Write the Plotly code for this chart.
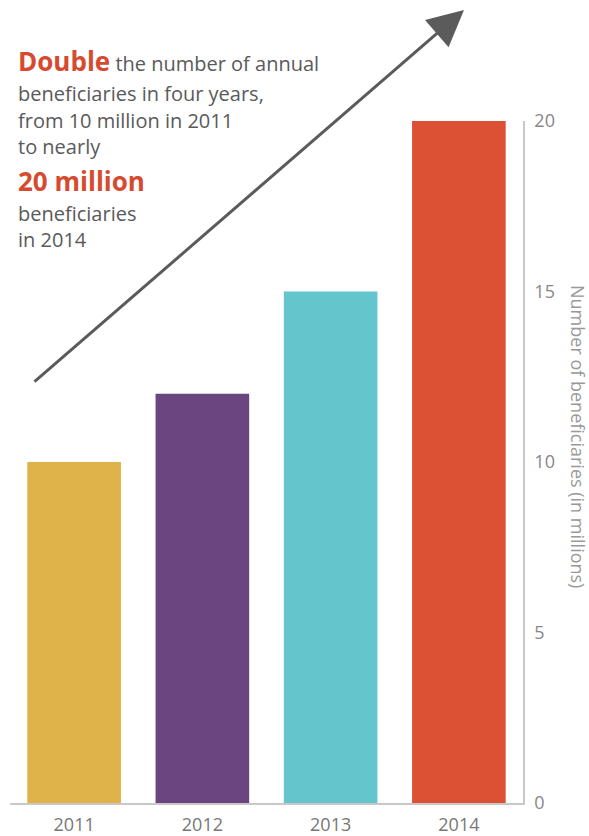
import plotly.graph_objects as go

# Annual beneficiaries, in millions
years = ["2011", "2012", "2013", "2014"]
beneficiaries = [10, 12, 15, 20]
bar_colors = ["#E0B24A", "#6A4580", "#64C6CC", "#DC5134"]
y_ticks = [0, 5, 10, 15, 20]

RED = "#D64A2F"
GREY_TEXT = "#5a5a5a"
FONT = "Open Sans"

W, H = 589, 836
L, R, T, B = 10, 66, 121, 33

fig = go.Figure(
    go.Bar(
        x=years,
        y=beneficiaries,
        marker=dict(color=bar_colors, line=dict(width=0)),
        hoverinfo="skip",
    )
)


def px_x(px):
    return (px - L) / (W - L - R)


def px_y(py):
    return (H - B - py) / (H - T - B)


# Callout text, one annotation per line
big = f"font-size:26px;color:{RED}"
lines = [
    (61, f"<span style='{big}'><b>Double</b></span> the number of annual"),
    (93, "beneficiaries in four years,"),
    (120, "from 10 million in 2011"),
    (147, "to nearly"),
    (181, f"<span style='{big}'><b>20 million</b></span>"),
    (213, "beneficiaries"),
    (240, "in 2014"),
]
annotations = []
for py, txt in lines:
    annotations.append(dict(
        text=txt, xref="paper", yref="paper",
        x=px_x(16), y=px_y(py), xanchor="left", yanchor="middle",
        showarrow=False, font=dict(family=FONT, size=20, color=GREY_TEXT),
    ))

# Growth arrow
head = (464, 10)
tail = (33, 383)
annotations.append(dict(
    text="", xref="paper", yref="paper",
    x=px_x(head[0]), y=px_y(head[1]),
    ax=tail[0] - head[0], ay=tail[1] - head[1],
    axref="pixel", ayref="pixel",
    showarrow=True, arrowhead=2, arrowsize=2.4, arrowwidth=3,
    arrowcolor="#5b5b5b", standoff=0,
))

# Axis title, reading top to bottom
annotations.append(dict(
    text="Number of beneficiaries (in millions)",
    xref="paper", yref="paper", x=px_x(578), y=px_y(436),
    xanchor="center", yanchor="middle", textangle=90, showarrow=False,
    font=dict(family=FONT, size=18, color="#999999"),
))

fig.update_layout(
    width=W, height=H,
    margin=dict(l=L, r=R, t=T, b=B, pad=0, autoexpand=False),
    paper_bgcolor="white", plot_bgcolor="white",
    showlegend=False, bargap=0.27,
    font=dict(family=FONT),
    annotations=annotations,
    xaxis=dict(
        showgrid=False, zeroline=False, showline=True,
        linecolor="#c8c8c8", linewidth=1.5, automargin=False,
        tickfont=dict(family=FONT, size=18, color="#777777"),
        ticks="", ticklabelstandoff=5, fixedrange=True,
    ),
    yaxis=dict(
        side="right", range=[0, 20], tickvals=y_ticks,
        showgrid=False, zeroline=False, showline=True,
        linecolor="#c8c8c8", linewidth=1.5, automargin=False,
        tickfont=dict(family=FONT, size=18, color="#888888"),
        ticks="", ticklabelstandoff=6, fixedrange=True,
    ),
)

fig.write_html("out.html", config={"displayModeBar": False})
